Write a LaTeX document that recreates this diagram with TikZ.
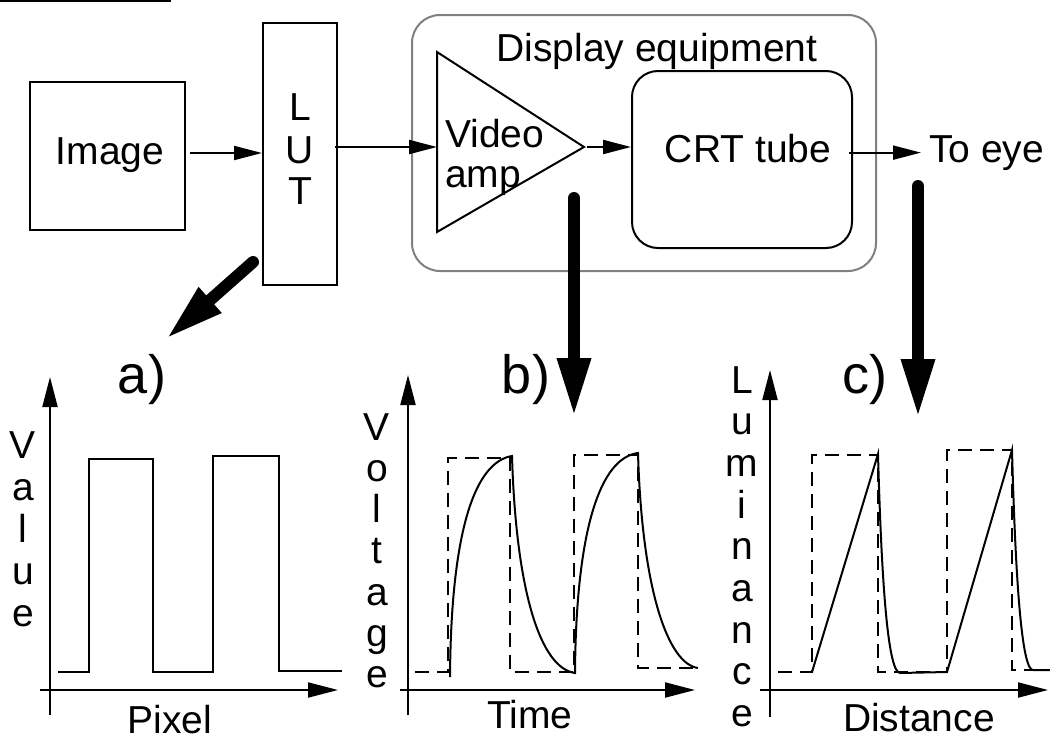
\documentclass[tikz,border=0pt]{standalone}
\usepackage{fontspec}
\setmainfont{Liberation Sans}
\usetikzlibrary{arrows.meta}
\begin{document}
\begin{tikzpicture}[x=1pt,y=-1pt,
  every node/.style={font=\fontsize{39}{47}\selectfont, inner sep=0pt},
  box/.style={draw, line width=2pt},
  rbox/.style={draw, line width=2pt, rounded corners=26pt},
  lbl/.style={anchor=base},
  tag/.style={anchor=base, font=\fontsize{54}{60}\selectfont},
  arr/.style={line width=2pt, -{Triangle[length=28pt,width=14pt]}},
  axis/.style={line width=2pt, -{Triangle[length=30pt,width=15pt]}},
  fat/.style={line width=12pt, line cap=round, -{Triangle[length=59pt,width=31pt]}},
  wave/.style={line width=2pt, line join=miter},
  ref/.style={line width=2pt, dash pattern=on 14pt off 8pt}]
\useasboundingbox (0,0) rectangle (1050,736);

% rule at the top edge
\draw[line width=2pt] (0,0.5) -- (171,0.5);

% ---- block diagram ----
\node[box, minimum width=155pt, minimum height=148pt] (img) at (107.5,156) {};
\node[lbl] (imgtxt) at (110,164) {Image};

\node[box, minimum width=74pt, minimum height=262pt] (lut) at (300,154) {};
\node[lbl] (lutL) at (300,120) {L};
\node[lbl] (lutU) at (300,163) {U};
\node[lbl] (lutT) at (300,204) {T};

\node[rbox, draw=gray, rounded corners=28pt, minimum width=464pt, minimum height=256pt] (disp) at (644,143) {};
\node[lbl] (disptxt) at (657,61) {Display equipment};

% video amplifier
\coordinate (ampN) at (437,52);
\coordinate (ampS) at (437,232);
\coordinate (ampW) at (437,147);
\coordinate (ampTip) at (584,147);
\draw[line width=2pt, line join=miter] (ampN) -- (ampTip) -- (ampS) -- cycle;
\node[anchor=base west] (vid) at (445,147) {Video};
\node[anchor=base west] (amp) at (445,187) {amp};

\node[rbox, minimum width=220pt, minimum height=177pt] (crt) at (742,159.5) {};
\node[lbl] (crttxt) at (748,162) {CRT tube};
\node[anchor=base west] (eye) at (929,162) {To eye};

% signal path
\draw[arr] ([xshift=4pt,yshift=3pt]img.east) -- ([yshift=3pt]img.east -| lut.west);
\draw[arr] ([xshift=-3pt]lut.east |- ampW) -- (ampW);
\draw[arr] ([xshift=3pt]ampTip) -- (crt.west |- ampTip);
\draw[arr, shorten >=8pt] ([xshift=-4pt]crt.east |- eye.west) -- (eye.west);

% probes to the plots
\coordinate (aS) at (253,262);
\coordinate (aT) at (166,339);
\coordinate (bS) at (574,198);
\coordinate (bT) at (574,417);
\coordinate (cS) at (918,186);
\coordinate (cT) at (918,418);
\draw[fat] (aS) -- (aT);
\draw[fat] (bS) -- (bT);
\draw[fat] (cS) -- (cT);

\node[tag] (la) at (142,393) {a)};
\node[tag] (lb) at (526,393) {b)};
\node[tag] (lc) at (865,393) {c)};

% ---- plot a: pixel values ----
\draw[axis] (50,715) -- (50,377);
\draw[axis] (40,690) -- (338,690);
\draw[wave] (58,672) -- (89,672) -- (89,459) -- (153,459) -- (153,672) -- (213,672)
  -- (213,456) -- (279,456) -- (279,671) -- (342,671);
\foreach \c [count=\i from 0] in {V,a,l,u,e}
  \node[lbl] at (23,458+42*\i) {\c};
\node[lbl] (pix) at (170,733) {Pixel};

% ---- plot b: amplifier voltage ----
\draw[axis] (408,715) -- (408,375);
\draw[axis] (400,690) -- (695,690);
\draw[ref] (415,672) -- (448,672) -- (448,458) -- (510,458) -- (510,672) -- (574,672)
  -- (574,455) -- (638,455) -- (638,668) -- (700,668);
\draw[line width=2pt]
  (450,677) .. controls (451,530) and (475,462) .. (512,456)
  .. controls (516,590) and (540,668) .. (575,673)
  .. controls (576,530) and (600,458) .. (638,453)
  .. controls (642,590) and (668,664) .. (698,668);
\foreach \c [count=\i from 0] in {V,o,l,t,a,g,e}
  \node[lbl] at (377,440+41.3*\i) {\c};
\node[lbl] (time) at (530,728) {Time};

% ---- plot c: screen luminance ----
\draw[axis] (770,717) -- (770,370);
\draw[axis] (760,690) -- (1048,690);
\draw[ref] (778,672) -- (812,672) -- (812,455) -- (878,455) -- (878,672) -- (947,672)
  -- (947,450) -- (1012,450) -- (1012,670) -- (1050,670);
\draw[line width=2pt, line join=miter]
  (812,672) -- (878,454)
  .. controls (882,600) and (889,672) .. (900,673) -- (947,672) -- (1012,450)
  .. controls (1016,600) and (1023,670) .. (1033,670) -- (1050,670);
\foreach \c [count=\i from 0] in {L,u,m,i,n,a,n,c,e}
  \node[lbl] at (742,393+41.7*\i) {\c};
\node[lbl] (dist) at (919,731) {Distance};
\end{tikzpicture}
\end{document}
